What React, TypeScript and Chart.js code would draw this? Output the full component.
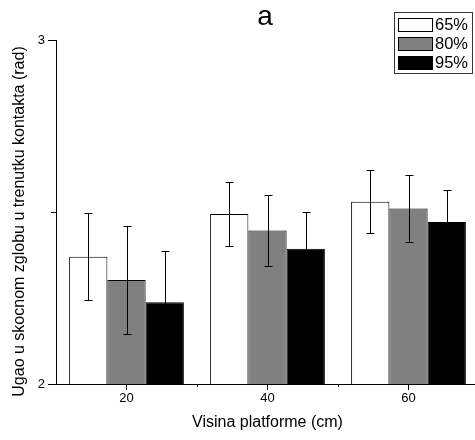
import React, { useEffect, useRef } from "react";
import { Chart, registerables } from "chart.js";

Chart.register(...registerables);

const categories = ["20", "40", "60"];
const seriesLabels = ["65%", "80%", "95%"];
const values65 = [2.37, 2.494, 2.53];
const values80 = [2.302, 2.446, 2.51];
const values95 = [2.238, 2.393, 2.471];
const err65 = [0.127, 0.092, 0.091];
const err80 = [0.156, 0.103, 0.097];
const err95 = [0.15, 0.106, 0.094];
const seriesColors = ["#ffffff", "#808080", "#000000"];
const yMin = 2;
const yMax = 3;
const yMinorTicks = [2.5];
const chartTitle = "a";
const xTitle = "Visina platforme (cm)";
const yTitle = "Ugao u skocnom zglobu u trenutku kontakta (rad)";

const FONT = "'Liberation Sans', Arial, sans-serif";

const errorBarPlugin = {
  id: "errorBars",
  afterDatasetsDraw(chart: any) {
    const ctx = chart.ctx;
    const ys = chart.scales.y;
    ctx.save();
    ctx.strokeStyle = "#000";
    ctx.lineWidth = 1;
    chart.data.datasets.forEach((ds: any, i: number) => {
      const meta = chart.getDatasetMeta(i);
      meta.data.forEach((bar: any, j: number) => {
        const v = ds.data[j];
        const e = ds.errors[j];
        const x = Math.round(bar.x) + 0.5;
        const yT = Math.round(ys.getPixelForValue(v + e)) + 0.5;
        const yB = Math.round(ys.getPixelForValue(v - e)) + 0.5;
        ctx.beginPath();
        ctx.moveTo(x, yT);
        ctx.lineTo(x, yB);
        ctx.moveTo(x - 4, yT);
        ctx.lineTo(x + 4, yT);
        ctx.moveTo(x - 4, yB);
        ctx.lineTo(x + 4, yB);
        ctx.stroke();
      });
    });
    ctx.restore();
  },
};

const decorPlugin = {
  id: "decor",
  afterDraw(chart: any) {
    const ctx = chart.ctx;
    const xs = chart.scales.x;
    const ys = chart.scales.y;
    const area = chart.chartArea;
    ctx.save();
    // minor ticks
    ctx.strokeStyle = "#000";
    ctx.lineWidth = 1;
    ctx.beginPath();
    yMinorTicks.forEach((t) => {
      const y = Math.round(ys.getPixelForValue(t)) + 0.5;
      ctx.moveTo(area.left - 5, y);
      ctx.lineTo(area.left, y);
    });
    for (let j = 1; j < categories.length; j++) {
      const x = Math.round((xs.getPixelForTick(j - 1) + xs.getPixelForTick(j)) / 2) + 0.5;
      ctx.moveTo(x, area.bottom);
      ctx.lineTo(x, area.bottom + 3);
    }
    ctx.stroke();

    // titles
    ctx.fillStyle = "#000";
    ctx.textAlign = "center";
    ctx.textBaseline = "middle";
    ctx.font = `28px ${FONT}`;
    ctx.fillText(chartTitle, 265, 17.5);
    ctx.font = `16px ${FONT}`;
    ctx.fillText(xTitle, 267.5, 422.5);
    ctx.save();
    ctx.translate(19.5, 221.5);
    ctx.rotate(-Math.PI / 2);
    ctx.fillText(yTitle, 0, 0);
    ctx.restore();

    // legend
    ctx.strokeStyle = "#333";
    ctx.strokeRect(394.5, 12.5, 78, 61);
    chart.data.datasets.forEach((ds: any, i: number) => {
      const y0 = 18 + i * 19;
      ctx.fillStyle = ds.backgroundColor;
      ctx.fillRect(398.5, y0 + 0.5, 34, 13);
      ctx.strokeStyle = "#000";
      ctx.strokeRect(398.5, y0 + 0.5, 34, 13);
      ctx.fillStyle = "#000";
      ctx.textAlign = "left";
      ctx.font = `16.5px ${FONT}`;
      ctx.fillText(ds.label, 435, y0 + 7);
    });
    ctx.restore();
  },
};

export default function App() {
  const ref = useRef<HTMLCanvasElement>(null);
  useEffect(() => {
    const allValues = [values65, values80, values95];
    const allErrors = [err65, err80, err95];
    const chart = new Chart(ref.current as HTMLCanvasElement, {
      type: "bar",
      data: {
        labels: categories,
        datasets: seriesLabels.map((label, i) => ({
          label,
          data: allValues[i],
          errors: allErrors[i],
          backgroundColor: seriesColors[i],
          borderColor: "#000",
          borderWidth: 1,
          categoryPercentage: 0.814,
          barPercentage: 1,
        })) as any,
      },
      options: {
        responsive: false,
        animation: false,
        devicePixelRatio: 1,
        layout: { padding: { top: 40, left: 0, right: 0, bottom: 0 } },
        plugins: {
          legend: { display: false },
          tooltip: { enabled: false },
          title: { display: false },
        },
        scales: {
          x: {
            offset: true,
            grid: {
              offset: false,
              drawOnChartArea: false,
              drawTicks: true,
              tickLength: 6,
              tickColor: "#000",
            },
            border: { display: true, color: "#000", width: 1 },
            ticks: {
              color: "#000",
              font: { family: FONT, size: 13 },
              padding: 1,
            },
            afterFit(s: any) {
              s.height = 56;
            },
          },
          y: {
            min: yMin,
            max: yMax,
            grid: {
              drawOnChartArea: false,
              drawTicks: true,
              tickLength: 8,
              tickColor: "#000",
            },
            border: { display: true, color: "#000", width: 1 },
            ticks: {
              stepSize: 1,
              color: "#000",
              font: { family: FONT, size: 13 },
              padding: 3,
            },
            afterFit(s: any) {
              s.width = 56;
            },
          },
        },
      },
      plugins: [errorBarPlugin, decorPlugin],
    });
    return () => chart.destroy();
  }, []);
  return (
    <div
      style={{
        position: "fixed",
        left: 0,
        top: 0,
        width: 475,
        height: 440,
        overflow: "hidden",
        background: "#fff",
      }}
    >
      <canvas ref={ref} width={479} height={440} style={{ display: "block", width: 479, height: 440 }} />
    </div>
  );
}
